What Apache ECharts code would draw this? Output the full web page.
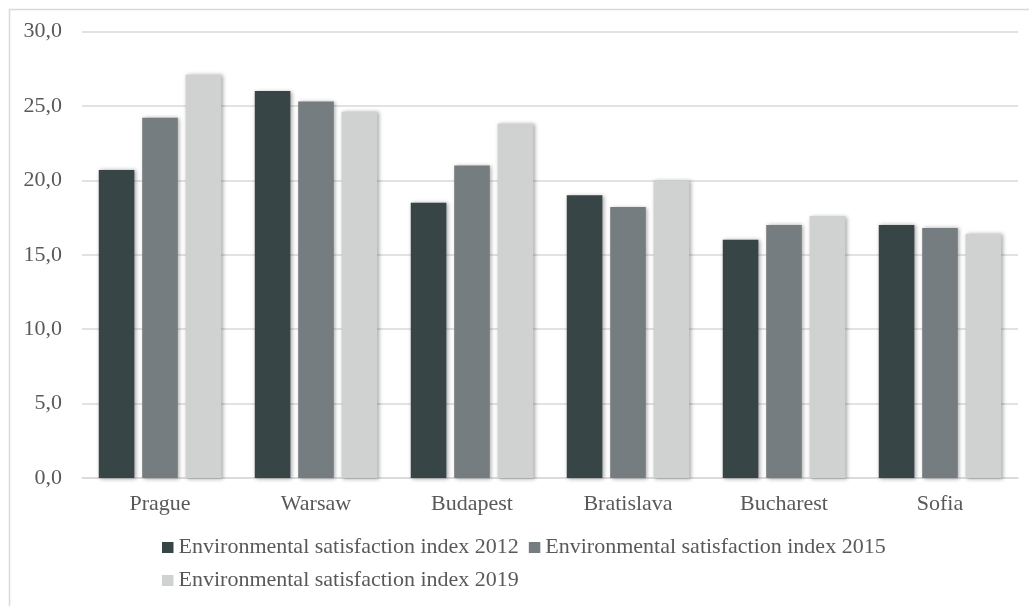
<!DOCTYPE html>
<html>
<head>
<meta charset="utf-8">
<title>Environmental satisfaction index</title>
<script src="https://cdn.jsdelivr.net/npm/echarts@6/dist/echarts.min.js"></script>
<style>
  html, body { margin: 0; padding: 0; background: #ffffff; }
  #chart { width: 1029px; height: 606px; }
</style>
</head>
<body>
<div id="chart"></div>
<script>
// City categories on the x axis
const cities = ['Prague', 'Warsaw', 'Budapest', 'Bratislava', 'Bucharest', 'Sofia'];

// Index values per survey year
const index2012 = [20.7, 26.0, 18.5, 19.0, 16.0, 17.0];
const index2015 = [24.2, 25.3, 21.0, 18.2, 17.0, 16.8];
const index2019 = [27.1, 24.6, 23.8, 20.0, 17.6, 16.4];

const seriesNames = [
  'Environmental satisfaction index 2012',
  'Environmental satisfaction index 2015',
  'Environmental satisfaction index 2019'
];

const FONT = '"Liberation Serif", "Times New Roman", serif';
const TEXT = '#595959';
const colors = ['#374546', '#767d80', '#d0d1d1'];

function barSeries(name, data, color) {
  return {
    name: name,
    type: 'bar',
    data: data,
    barGap: '22%',
    barCategoryGap: '21.5%',
    itemStyle: {
      color: color,
      shadowColor: 'rgba(0,0,0,0.35)',
      shadowBlur: 4,
      shadowOffsetX: 1.5,
      shadowOffsetY: 0.5
    },
    emphasis: { disabled: true }
  };
}

const chart = echarts.init(document.getElementById('chart'), null, { renderer: 'canvas' });

chart.setOption({
  animation: false,
  backgroundColor: '#ffffff',
  color: colors,
  textStyle: { fontFamily: FONT },
  graphic: [{
    type: 'rect',
    shape: { x: 9.5, y: 9.5, width: 1040, height: 620 },
    style: { fill: 'none', stroke: '#d9d9d9', lineWidth: 1.5 },
    silent: true
  }],
  grid: { left: 82, right: 11, top: 31.5, bottom: 128, containLabel: false },
  xAxis: {
    type: 'category',
    data: cities,
    axisLine: { lineStyle: { color: '#d9d9d9', width: 1.5 } },
    axisTick: { show: false },
    axisLabel: { color: TEXT, fontFamily: FONT, fontSize: 22, margin: 15 }
  },
  yAxis: {
    type: 'value',
    min: 0,
    max: 30,
    interval: 5,
    axisLine: { show: false },
    axisTick: { show: false },
    splitLine: { lineStyle: { color: '#d9d9d9', width: 1.5 } },
    axisLabel: {
      color: TEXT,
      fontFamily: FONT,
      fontSize: 22,
      margin: 20,
      formatter: v => v.toFixed(1).replace('.', ',')
    }
  },
  legend: {
    data: seriesNames,
    left: 162,
    top: 536,
    width: 800,
    orient: 'horizontal',
    icon: 'rect',
    itemWidth: 11.5,
    itemHeight: 11,
    itemGap: 10,
    padding: 0,
    textStyle: { color: TEXT, fontFamily: FONT, fontSize: 22, lineHeight: 23 },
    selectedMode: false
  },
  series: [
    barSeries(seriesNames[0], index2012, colors[0]),
    barSeries(seriesNames[1], index2015, colors[1]),
    barSeries(seriesNames[2], index2019, colors[2])
  ]
});
</script>
</body>
</html>
